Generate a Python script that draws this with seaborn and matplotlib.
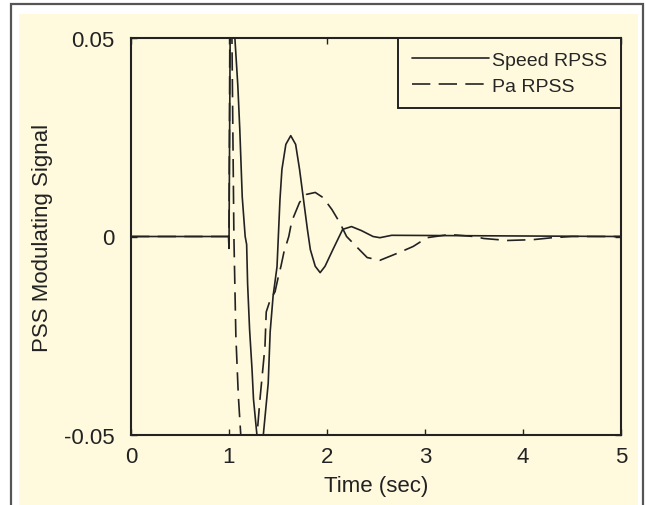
import numpy as np
import pandas as pd
import matplotlib
matplotlib.use("Agg")
import matplotlib.pyplot as plt
from matplotlib.patches import Rectangle
import seaborn as sns

# ---------------- data ----------------
SPEED_T = [0.0, 0.995, 1.0, 1.005, 1.015, 1.03, 1.045, 1.06, 1.09, 1.11, 1.135, 1.165,
           1.18, 1.19, 1.21, 1.235, 1.25, 1.285, 1.31, 1.33, 1.35, 1.40, 1.42, 1.45, 1.49,
           1.52, 1.54, 1.58, 1.63, 1.68, 1.72, 1.80, 1.83, 1.88, 1.93, 1.98, 2.06, 2.16,
           2.25, 2.35, 2.47, 2.54, 2.66, 5.0]
SPEED_V = [0.0, 0.0, -0.003, 0.02, 0.065, 0.075, 0.066, 0.05, 0.038, 0.027, 0.01, 0.0,
           -0.002, -0.012, -0.0234, -0.0335, -0.041, -0.05, -0.059, -0.061, -0.05, -0.037,
           -0.024, -0.015, -0.0076, 0.0093, 0.0169, 0.0232, 0.0254, 0.0232, 0.0169, 0.0018,
           -0.0033, -0.0075, -0.0091, -0.0075, -0.0033, 0.0018, 0.0025, 0.0015, 0.0, -0.0003,
           0.0003, 0.0]

PA_T = [0.0, 0.995, 1.0, 1.01, 1.02, 1.03, 1.05, 1.07, 1.095, 1.12, 1.16, 1.2, 1.25,
        1.286, 1.316, 1.367, 1.38, 1.42, 1.47, 1.50, 1.53, 1.56, 1.61, 1.64, 1.72, 1.79,
        1.88, 1.96, 2.05, 2.13, 2.20, 2.33, 2.41, 2.54, 2.74, 2.88, 3.02, 3.25, 3.5, 3.6,
        3.84, 4.1, 4.3, 4.5, 5.0]
PA_V = [0.0, 0.0, 0.0, 0.06, 0.07, 0.05, 0.0, -0.025, -0.04, -0.05, -0.066, -0.07,
        -0.062, -0.05, -0.041, -0.0277, -0.019, -0.016, -0.0139, -0.0105, -0.0075, -0.004,
        0.0, 0.0038, 0.0086, 0.0106, 0.0111, 0.0098, 0.0068, 0.0035, 0.0, -0.0033,
        -0.0053, -0.006, -0.004, -0.0025, -0.0003, 0.0005, 0.0, -0.0005, -0.001, -0.0008,
        -0.0003, 0.0, 0.0]

X_TICKS = [0, 1, 2, 3, 4, 5]
Y_TICKS = [-0.05, 0, 0.05]
Y_TICKLABELS = ["-0.05", "0", "0.05"]

# ---------------- style ----------------
CREAM = "#fffade"
INK = "#222222"
LW = 1.2

sns.set_theme(style="ticks")
plt.rcParams["font.family"] = ["Liberation Sans", "DejaVu Sans"]
plt.rcParams["axes.linewidth"] = 1.5
plt.rcParams["axes.edgecolor"] = INK

speed = pd.DataFrame({"t": SPEED_T, "v": SPEED_V})
pa = pd.DataFrame({"t": PA_T, "v": PA_V})

fig = plt.figure(figsize=(6.46, 5.06), dpi=100, facecolor="white")
# outer frame + cream panel
fig.patches.append(Rectangle((19 / 646, 0), (638 - 19) / 646, (506 - 15) / 506,
                             transform=fig.transFigure, facecolor=CREAM,
                             edgecolor="none", zorder=-2))
fig.patches.append(Rectangle((11 / 646, -0.05), (643 - 11) / 646, 1.05 - 5 / 506,
                             transform=fig.transFigure, facecolor="none",
                             edgecolor="#555555", lw=1.6, zorder=-1))

ax = fig.add_axes([131 / 646, (506 - 436) / 506, (621 - 131) / 646, (436 - 39) / 506])
ax.set_facecolor(CREAM)

sns.lineplot(data=speed, x="t", y="v", ax=ax, color=INK, lw=LW, label="Speed RPSS",
             sort=False, estimator=None)
sns.lineplot(data=pa, x="t", y="v", ax=ax, color=INK, lw=LW, label="Pa RPSS",
             sort=False, estimator=None, linestyle=(0, (11, 5)))

ax.set_xlim(0, 5)
ax.set_ylim(-0.05, 0.05)
ax.set_xticks(X_TICKS)
ax.set_yticks(Y_TICKS)
ax.set_yticklabels(Y_TICKLABELS)
ax.tick_params(direction="in", length=4, width=1.0, color=INK, labelsize=16,
               labelcolor=INK, top=True, right=True)
ax.tick_params(axis="y", pad=12)
ax.tick_params(axis="x", pad=8)
ax.set_xlabel("Time (sec)", fontsize=16, color=INK, labelpad=6)
ax.set_ylabel("PSS Modulating Signal", fontsize=16, color=INK, labelpad=8)

leg = ax.legend(loc="upper right", bbox_to_anchor=(1, 1), borderaxespad=0,
                fontsize=14, frameon=True, fancybox=False, framealpha=1,
                facecolor=CREAM, edgecolor=INK, handlelength=4.0, handletextpad=0.15,
                borderpad=0.7, labelspacing=0.4)
leg.get_frame().set_linewidth(1.4)

fig.savefig("out.png", dpi=100, facecolor="white")
